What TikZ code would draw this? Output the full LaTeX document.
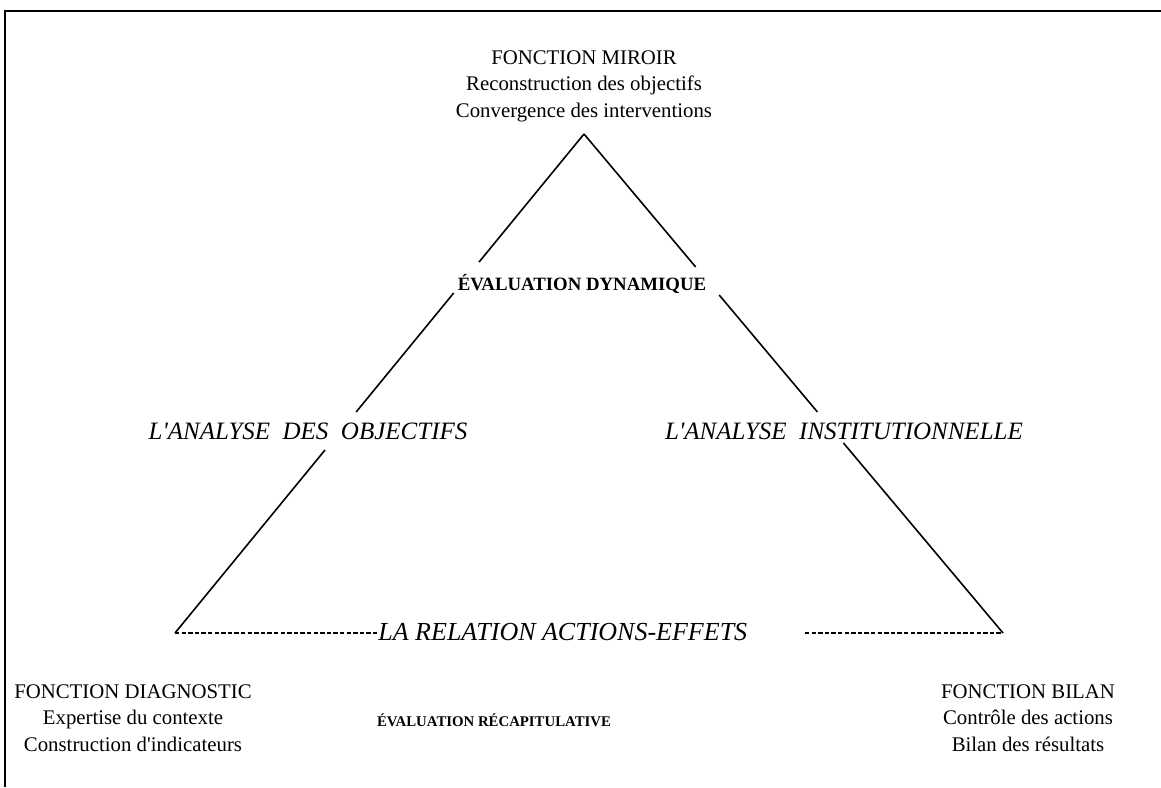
\documentclass[tikz,border=0pt]{standalone}
\usepackage{fontspec}
\setmainfont{Liberation Serif}[Ligatures=TeXOff]
\usetikzlibrary{calc}
\tikzset{
  x=0.5pt, y=-0.5pt,
  side/.style={line width=0.8pt},
  relline/.style={line width=0.9pt, dash pattern=on 2.2pt off 1.1pt},
  frame/.style={line width=1.1pt},
  reg/.style={inner sep=0pt, align=center, font=\fontsize{10.4}{13.3}\selectfont},
  boldlab/.style={inner sep=0pt, font=\fontsize{9.4}{11}\selectfont\bfseries},
  smallbold/.style={inner sep=0pt, font=\fontsize{7.4}{9}\selectfont\bfseries},
  itlab/.style={inner sep=0pt, font=\fontsize{12.5}{15}\selectfont\itshape},
}
\begin{document}
\begin{tikzpicture}
\useasboundingbox (0,0) rectangle (1161,787);
% frame (top and left only)
\draw[frame] (4,11) -- (1161,11);
\draw[frame] (5,11) -- (5,787);
% corners of the triangle
\coordinate (apex) at (584,134);
\coordinate (bl) at (175,633);
\coordinate (br) at (1003,633);
% texts
\node[reg] (miroir) at (584,86) {FONCTION MIROIR\\Reconstruction des objectifs\\Convergence des interventions};
\node[boldlab] (evdyn) at (582,284) {ÉVALUATION DYNAMIQUE};
\node[itlab] (anobj) at (308,431) {L'ANALYSE\ \ DES\ \ OBJECTIFS};
\node[itlab] (aninst) at (844,431) {L'ANALYSE\ \ INSTITUTIONNELLE};
\node[itlab, font=\fontsize{13}{15}\selectfont\itshape, anchor=west] (rel) at (378,632) {LA RELATION ACTIONS-EFFETS};
\coordinate (rd) at (805,633);
\node[reg] (diag) at (133,718) {FONCTION DIAGNOSTIC\\Expertise du contexte\\Construction d'indicateurs};
\node[smallbold] (evrecap) at (494,720) {ÉVALUATION RÉCAPITULATIVE};
\node[reg] (bilan) at (1028,718) {FONCTION BILAN\\Contrôle des actions\\Bilan des résultats};
% left side with gaps
\draw[side] (apex) -- ($(apex)!0.2565!(bl)$);
\draw[side] ($(apex)!0.3186!(bl)$) -- ($(apex)!0.5571!(bl)$);
\draw[side] ($(apex)!0.6333!(bl)$) -- (bl);
% right side with gaps
\draw[side] (apex) -- ($(apex)!0.2665!(br)$);
\draw[side] ($(apex)!0.3226!(br)$) -- ($(apex)!0.5571!(br)$);
\draw[side] ($(apex)!0.6192!(br)$) -- (br);
% base
\draw[relline] (bl) -- (bl -| rel.west);
\draw[relline] (rd) -- (br);
\end{tikzpicture}
\end{document}
